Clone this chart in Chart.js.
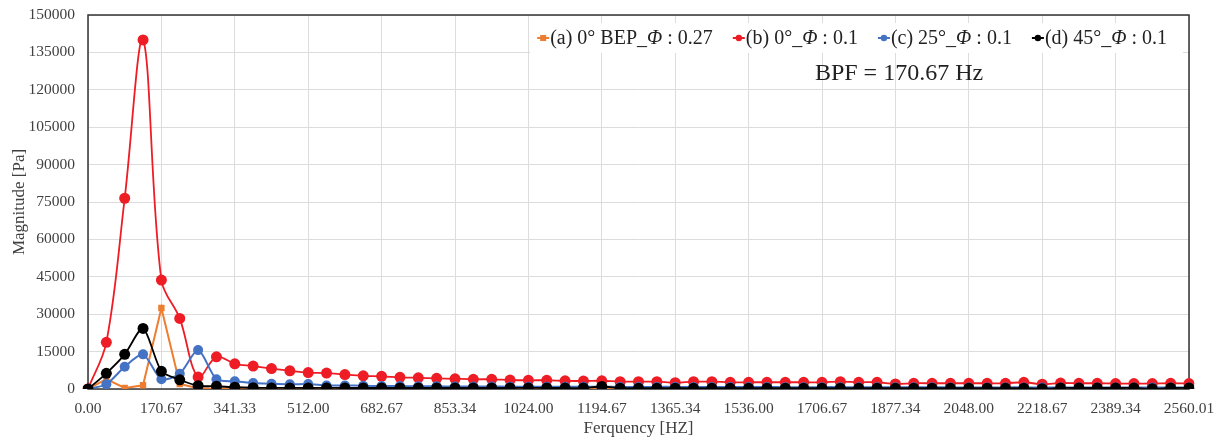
<!DOCTYPE html>
<html lang="en">
<head>
    <meta charset="UTF-8">
    <title>Magnitude Spectrum</title>
    <script src="https://cdn.jsdelivr.net/npm/chart.js"></script>
    <style>
        html, body { margin: 0; padding: 0; background: #fff; }
    </style>
</head>
<body>
    <canvas id="spectrum" width="1219" height="443"></canvas>

    <script>
        // frequency bins (Hz), every 4th one is labelled on the axis
        const freqLabels = [
            "0.00", "42.67", "85.33", "128.00", "170.67", "213.33", "256.00", "298.67", "341.33", "384.00",
            "426.67", "469.33", "512.00", "554.67", "597.33", "640.00", "682.67", "725.33", "768.00", "810.67",
            "853.34", "896.00", "938.67", "981.33", "1024.00", "1066.67", "1109.33", "1152.00", "1194.67", "1237.33",
            "1280.00", "1322.67", "1365.34", "1408.00", "1450.67", "1493.33", "1536.00", "1578.67", "1621.33", "1664.00",
            "1706.67", "1749.33", "1792.00", "1834.67", "1877.34", "1920.00", "1962.67", "2005.33", "2048.00", "2090.67",
            "2133.33", "2176.00", "2218.67", "2261.33", "2304.00", "2346.67", "2389.34", "2432.00", "2474.67", "2517.33",
            "2560.01"
        ];

        const seriesNames = [
            "(a) 0° BEP_Φ : 0.27",
            "(b) 0°_Φ : 0.1",
            "(c) 25°_Φ : 0.1",
            "(d) 45°_Φ : 0.1"
        ];

        // (a) 0 deg BEP
        const bep0 = [
            0, 4000, 400, 1500, 32500, 2000, 300, 200, 150, 150,
            150, 150, 100, 150, 150, 150, 150, 150, 150, 150,
            150, 150, 150, 150, 150, 150, 150, 150, 150, 150,
            150, 150, 150, 150, 150, 150, 150, 150, 150, 150,
            150, 150, 150, 150, 150, 150, 150, 150, 150, 150,
            150, 150, 100, 150, 150, 150, 150, 150, 100, 150,
            150
        ];

        // (b) 0 deg
        const deg0 = [
            0, 18700, 76500, 140000, 43700, 28300, 4800, 12900, 10100, 9200,
            8200, 7300, 6600, 6400, 5800, 5300, 5100, 4700, 4500, 4300,
            4100, 3900, 3900, 3600, 3500, 3500, 3300, 3200, 3300, 2950,
            2950, 2950, 2550, 2950, 2950, 2700, 2700, 2700, 2700, 2700,
            2700, 2950, 2700, 2700, 2000, 2300, 2300, 2300, 2300, 2300,
            2300, 2700, 1900, 2400, 2300, 2300, 2200, 2200, 2200, 2300,
            2200
        ];

        // (c) 25 deg
        const deg25 = [
            0, 1900, 8900, 13900, 3900, 6100, 15600, 3900, 3100, 2400,
            2100, 1900, 2000, 1400, 1400, 1300, 1200, 1200, 1100, 1100,
            1000, 1000, 1000, 950, 950, 900, 900, 900, 900, 850,
            850, 850, 850, 800, 800, 800, 800, 800, 750, 750,
            750, 750, 700, 700, 700, 700, 700, 650, 650, 650,
            650, 650, 600, 600, 600, 600, 600, 600, 600, 600,
            600
        ];

        // (d) 45 deg
        const deg45 = [
            0, 6300, 13900, 24300, 7100, 3700, 1300, 1100, 700, 500,
            450, 450, 400, 450, 400, 400, 400, 400, 400, 400,
            400, 400, 400, 400, 450, 400, 400, 400, 1000, 350,
            350, 350, 350, 350, 350, 350, 350, 350, 350, 350,
            350, 350, 350, 350, 350, 350, 350, 350, 350, 350,
            350, 350, 150, 400, 400, 400, 400, 400, 150, 400,
            450
        ];

        const bpfNote = "BPF = 170.67 Hz";

        const serif = "'Liberation Serif', 'Times New Roman', serif";
        const textColor = "#404040";
        const gridColor = "#dcdcdc";

        // frame round the plot area, drawn under the data
        const plotFrame = {
            id: "plotFrame",
            beforeDatasetsDraw(chart) {
                const { ctx, chartArea: a } = chart;
                ctx.save();
                ctx.strokeStyle = "#333";
                ctx.lineWidth = 1.5;
                ctx.strokeRect(a.left, a.top, a.right - a.left, a.bottom - a.top);
                ctx.restore();
            }
        };

        // label text with the Φ set in italic, like the original
        const plainFont = "20px " + serif;
        const italicFont = "italic 20px " + serif;

        function labelParts(ctx, label) {
            const bits = label.split("Φ");
            const parts = [];
            bits.forEach((b, i) => {
                if (b) parts.push({ text: b, font: plainFont });
                if (i < bits.length - 1) parts.push({ text: "Φ", font: italicFont });
            });
            parts.forEach(p => { ctx.font = p.font; p.w = ctx.measureText(p.text).width; });
            return parts;
        }

        // legend box inside the plot + the BPF note
        const insideLegend = {
            id: "insideLegend",
            afterDraw(chart) {
                const { ctx, chartArea: a } = chart;
                const sets = chart.data.datasets;
                ctx.save();
                ctx.textBaseline = "middle";

                const gap = 26;
                const items = sets.map(ds => labelParts(ctx, ds.label));
                const widths = items.map(parts => parts.reduce((s, p) => s + p.w, 0));
                let total = 0;
                widths.forEach((w, i) => { total += 7 + w + (i < widths.length - 1 ? gap : 0); });
                const endX = a.right - 22;
                let x = endX - total;
                const y = a.top + 23;

                ctx.fillStyle = "#fff";
                ctx.fillRect(x - 13, a.top + 8, endX + 16 - (x - 13), 30);

                sets.forEach((ds, i) => {
                    ctx.strokeStyle = ds.borderColor;
                    ctx.lineWidth = 2;
                    ctx.beginPath();
                    ctx.moveTo(x - 6, y);
                    ctx.lineTo(x + 6, y);
                    ctx.stroke();
                    ctx.fillStyle = ds.pointBackgroundColor;
                    if (ds.pointStyle === "rect") {
                        ctx.fillRect(x - 3, y - 3, 6, 6);
                    } else {
                        ctx.beginPath();
                        ctx.arc(x, y, 3.2, 0, Math.PI * 2);
                        ctx.fill();
                    }
                    ctx.fillStyle = "#222";
                    let tx = x + 7;
                    items[i].forEach(p => {
                        ctx.font = p.font;
                        ctx.fillText(p.text, tx, y + 1);
                        tx += p.w;
                    });
                    x += 7 + widths[i] + gap;
                });

                ctx.font = "24px " + serif;
                ctx.textAlign = "center";
                ctx.fillStyle = "#222";
                ctx.fillText(bpfNote, a.right - 290, a.top + 59);
                ctx.restore();
            }
        };

        function series(label, values, color, style, radius, width, tension, order) {
            return {
                label: label,
                data: values,
                borderColor: color,
                backgroundColor: color,
                pointBackgroundColor: color,
                pointBorderColor: color,
                pointStyle: style,
                pointRadius: radius,
                pointBorderWidth: 0,
                borderWidth: width,
                tension: tension,
                order: order
            };
        }

        const ctx = document.getElementById("spectrum").getContext("2d");

        new Chart(ctx, {
            type: "line",
            data: {
                labels: freqLabels,
                datasets: [
                    series(seriesNames[0], bep0, "#ed7d31", "rect", 4.5, 2, 0, 4),
                    series(seriesNames[1], deg0, "#ee1c25", "circle", 5.5, 1.8, 0.35, 3),
                    series(seriesNames[2], deg25, "#4472c4", "circle", 5, 2, 0.25, 2),
                    series(seriesNames[3], deg45, "#000000", "circle", 5.5, 1.8, 0.25, 1)
                ]
            },
            options: {
                responsive: false,
                animation: false,
                layout: { padding: { top: 15, right: 30, left: 4, bottom: 4 } },
                plugins: {
                    legend: { display: false },
                    tooltip: { enabled: false }
                },
                scales: {
                    x: {
                        type: "category",
                        offset: false,
                        border: { display: false },
                        grid: {
                            drawTicks: false,
                            color: c => (c.index % 4 === 0 ? gridColor : "rgba(0,0,0,0)")
                        },
                        ticks: {
                            autoSkip: false,
                            maxRotation: 0,
                            padding: 11,
                            color: textColor,
                            font: { family: serif, size: 15.5 },
                            callback: function (v, i) {
                                return i % 4 === 0 ? this.getLabelForValue(v) : "";
                            }
                        },
                        title: {
                            display: true,
                            text: "Ferquency [HZ]",
                            color: textColor,
                            font: { family: serif, size: 17 },
                            padding: { top: 0, bottom: 0 }
                        },
                        afterFit: s => {
                            s.height = 50;
                            s.paddingLeft = 0;
                            s.paddingRight = 0;
                        }
                    },
                    y: {
                        min: 0,
                        max: 150000,
                        border: { display: false },
                        grid: { drawTicks: false, color: gridColor },
                        ticks: {
                            stepSize: 15000,
                            padding: 13,
                            color: textColor,
                            font: { family: serif, size: 15.5 },
                            callback: v => String(v)
                        },
                        title: {
                            display: true,
                            text: "Magnitude [Pa]",
                            color: textColor,
                            font: { family: serif, size: 17 },
                            padding: { top: 5, bottom: 0 }
                        },
                        afterFit: s => {
                            s.width = 84;
                            s.paddingTop = 0;
                            s.paddingBottom = 0;
                        }
                    }
                }
            },
            plugins: [plotFrame, insideLegend]
        });
    </script>
</body>
</html>
